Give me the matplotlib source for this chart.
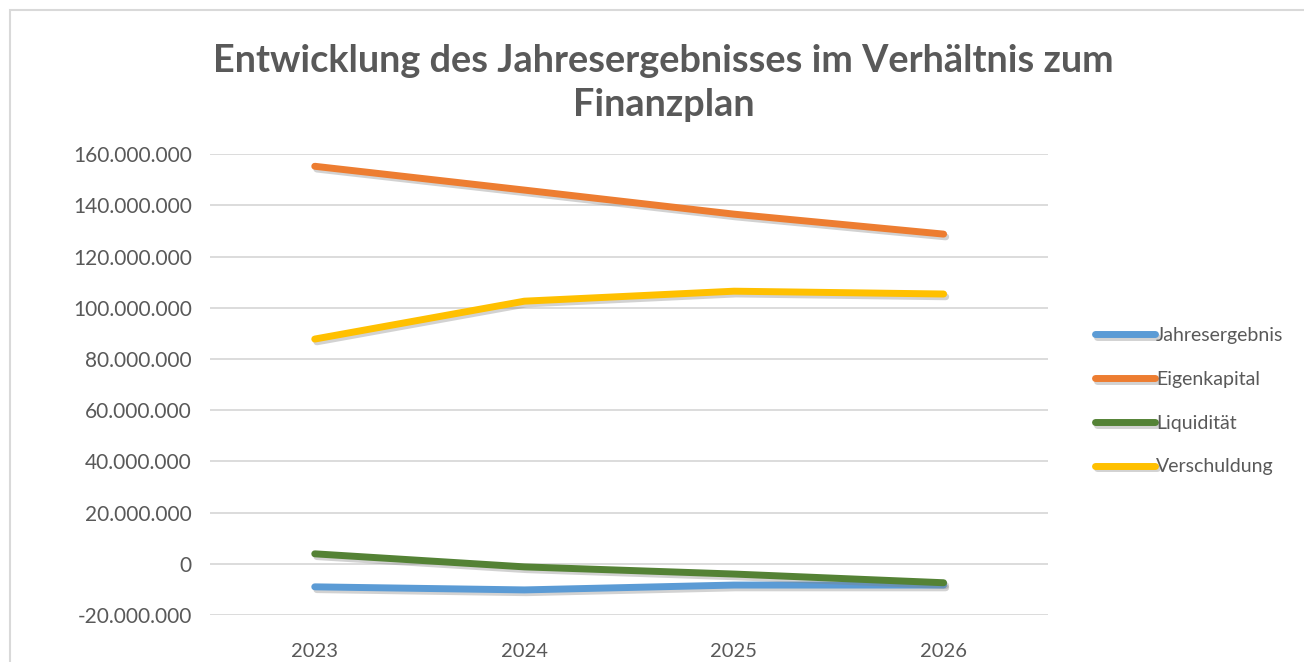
import matplotlib
matplotlib.use("Agg")
import matplotlib.pyplot as plt
import matplotlib.patheffects as pe
from matplotlib.patches import Rectangle
from matplotlib.ticker import FuncFormatter, MultipleLocator

# data
years = ["2023", "2024", "2025", "2026"]
jahresergebnis = [-9000000, -10200000, -8300000, -8300000]
eigenkapital = [155300000, 146000000, 136600000, 128800000]
liquiditaet = [3900000, -1200000, -4000000, -7400000]
verschuldung = [87800000, 102600000, 106500000, 105400000]

series_names = ["Jahresergebnis", "Eigenkapital", "Liquidität", "Verschuldung"]
series_colors = ["#5b9bd5", "#ed7d31", "#548235", "#ffc000"]

plt.rcParams["font.family"] = ["Lato", "DejaVu Sans"]

fig = plt.figure(figsize=(13.04, 6.62), dpi=100)
ax = fig.add_axes([0.161, 0.071, 0.643, 0.696])

# thin frame of the chart area
fig.patches.append(Rectangle((10 / 1304, -0.1), 1.2, 1.0853, transform=fig.transFigure,
                             fill=False, edgecolor="#d9d9d9", linewidth=1.5))

shadow = [pe.SimpleLineShadow(offset=(1.5, -2), shadow_color="#808080", alpha=0.35), pe.Normal()]
x = range(len(years))
for vals, name, col in zip([jahresergebnis, eigenkapital, liquiditaet, verschuldung],
                           series_names, series_colors):
    ax.plot(x, vals, color=col, linewidth=5, solid_capstyle="round", label=name,
            path_effects=shadow)

ax.set_xlim(-0.5, 3.5)
ax.set_ylim(-20000000, 160000000)
ax.yaxis.set_major_locator(MultipleLocator(20000000))
ax.yaxis.set_major_formatter(FuncFormatter(lambda v, p: f"{int(round(v)):,}".replace(",", ".")))
ax.set_xticks(list(x))
ax.set_xticklabels(years)
ax.grid(axis="y", color="#d9d9d9", linewidth=1.3)
ax.set_axisbelow(True)
for s in ax.spines.values():
    s.set_visible(False)
ax.tick_params(axis="both", length=0, labelsize=15, colors="#595959")
ax.tick_params(axis="x", labelsize=14.5)
ax.tick_params(axis="y", pad=13)
ax.tick_params(axis="x", pad=20)

fig.text(0.509, 0.875, "Entwicklung des Jahresergebnisses im Verhältnis zum\nFinanzplan",
         ha="center", va="center", fontsize=27.3, fontweight="bold", color="#595959",
         linespacing=1.35)

leg = fig.legend(loc="center left", bbox_to_anchor=(0.826, 0.394), frameon=False,
                 fontsize=14, handlelength=3.1, handletextpad=0.05, labelspacing=1.38,
                 labelcolor="#595959")
for h in leg.get_lines():
    h.set_linewidth(5)
    h.set_solid_capstyle("round")

fig.savefig("out.png", dpi=100, facecolor="white")
